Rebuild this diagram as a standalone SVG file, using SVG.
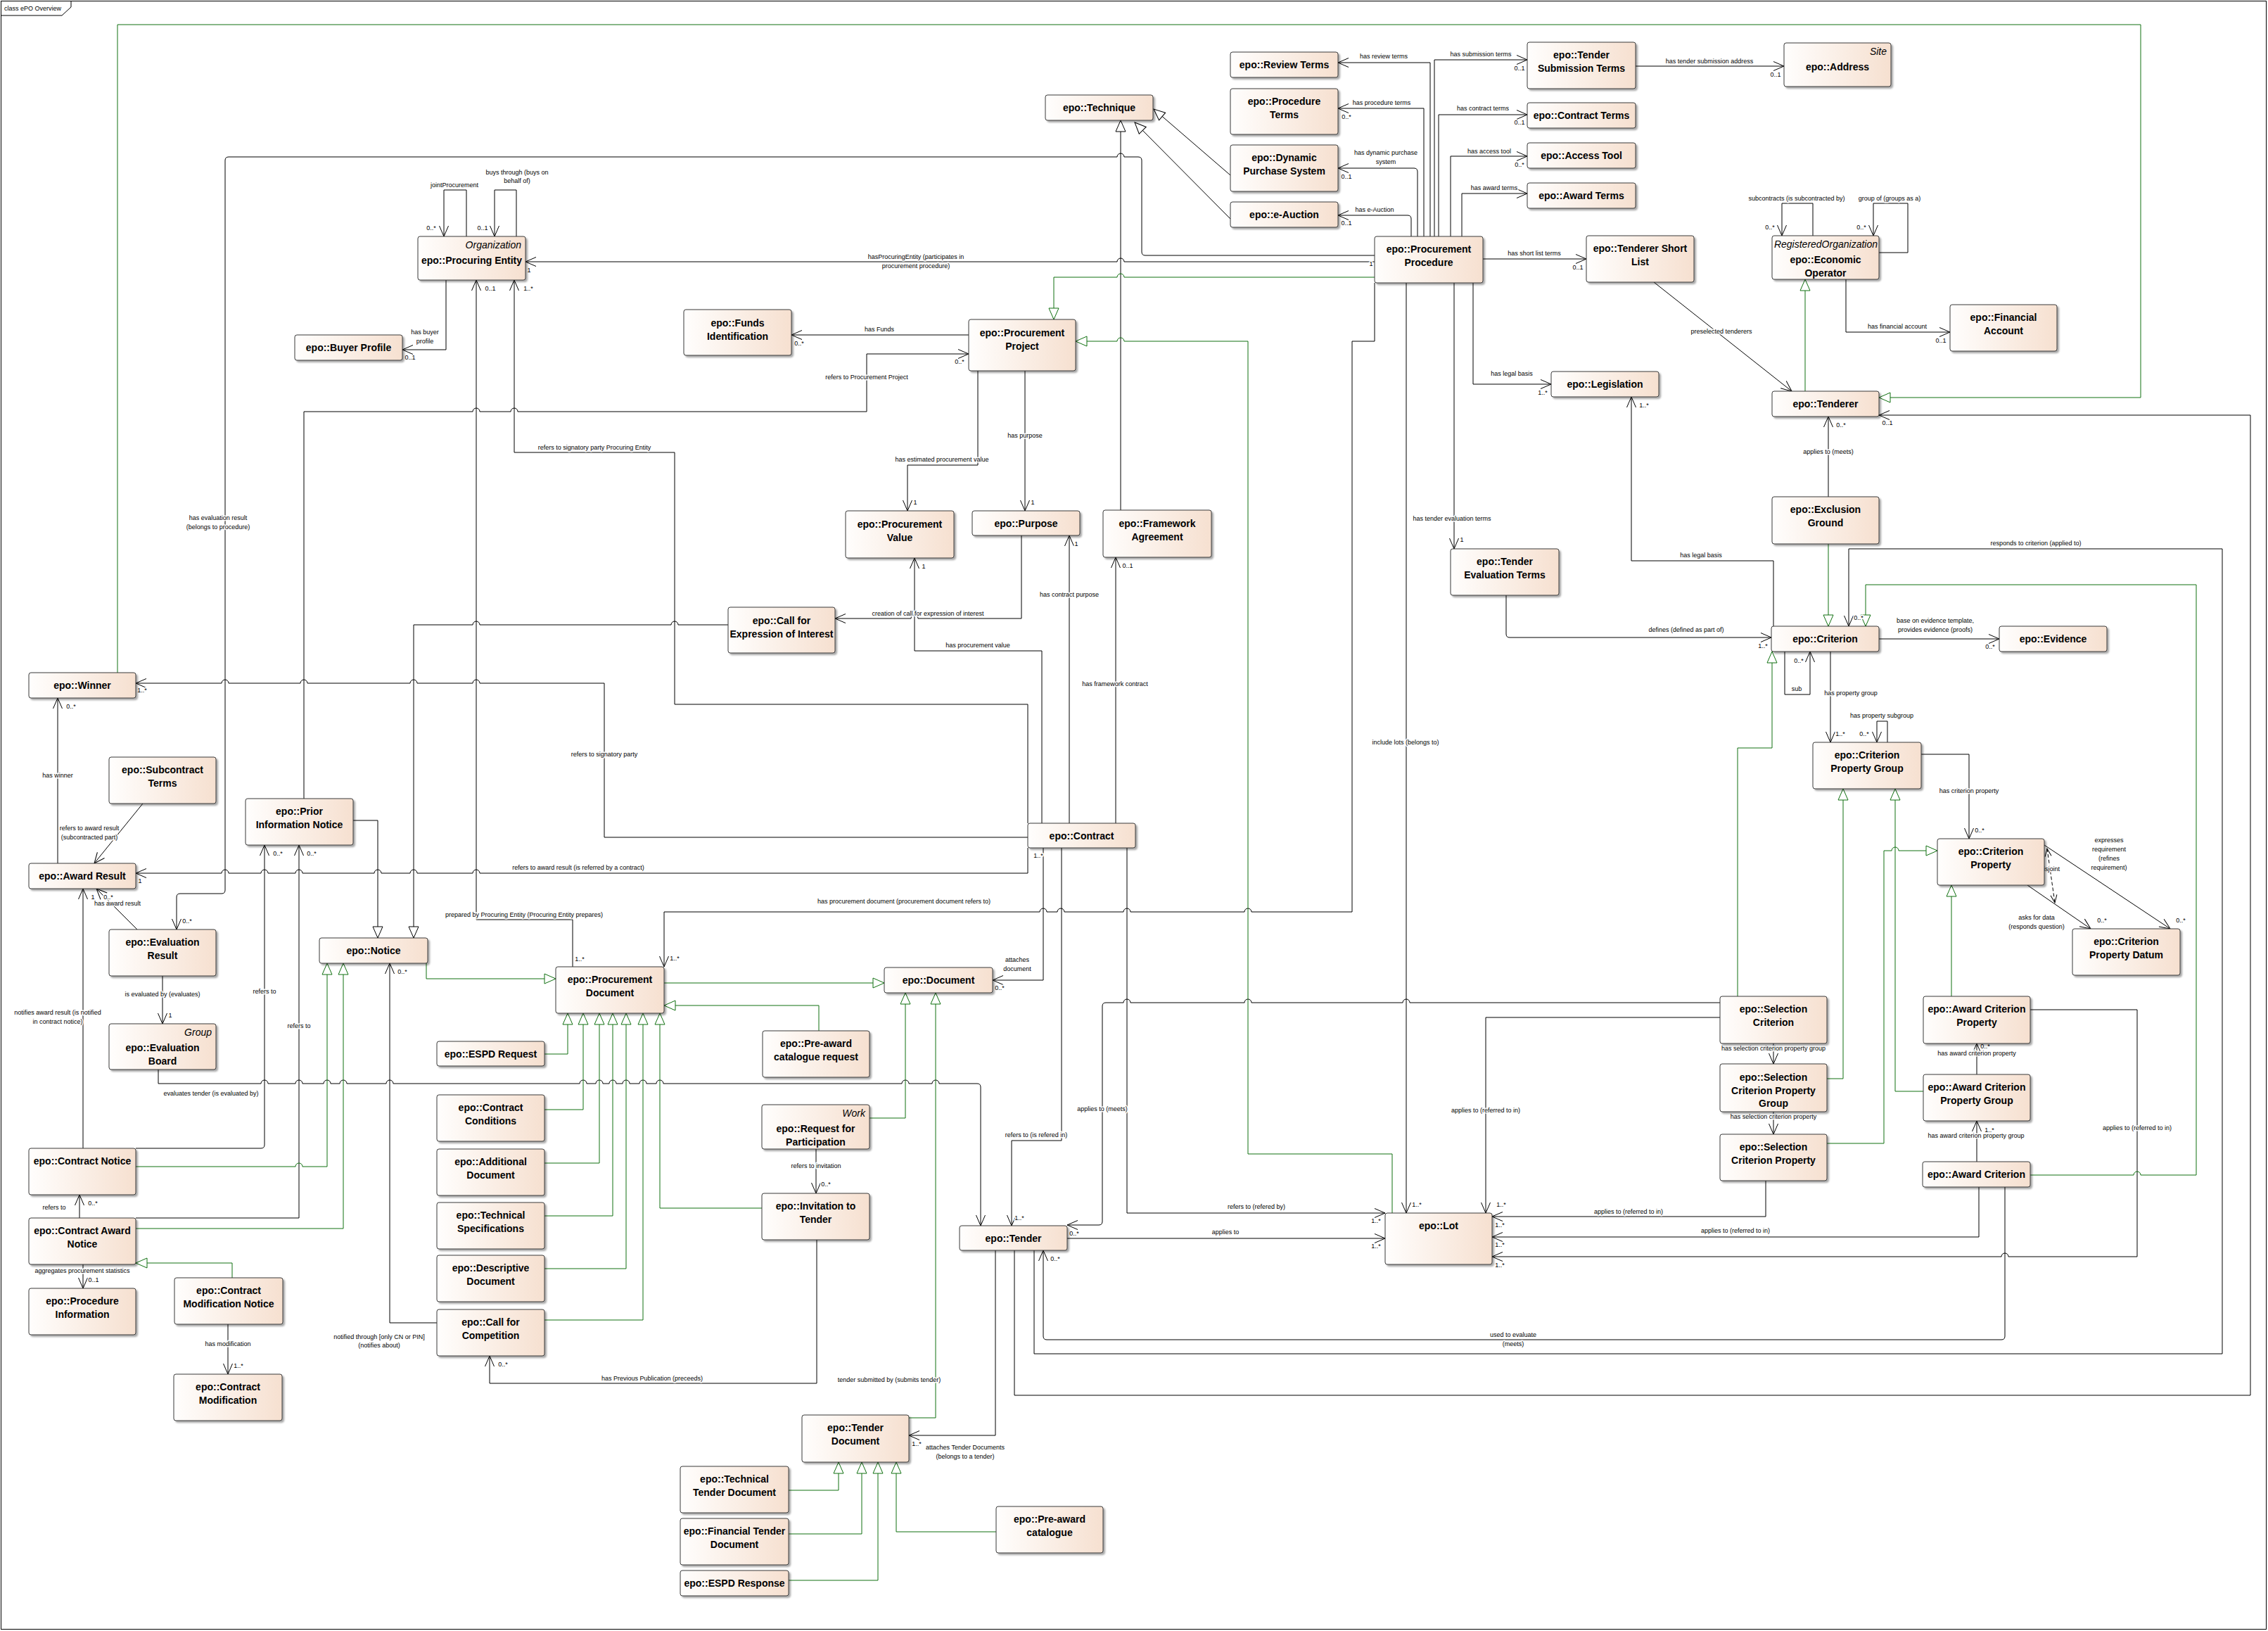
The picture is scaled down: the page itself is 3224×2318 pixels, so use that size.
<svg xmlns="http://www.w3.org/2000/svg" width="3224" height="2318" viewBox="0 0 3224 2318">
<defs>
<linearGradient id="g" x1="0" y1="0" x2="1" y2="0"><stop offset="0" stop-color="#fffefd"/><stop offset="1" stop-color="#f6e0d0"/></linearGradient>
<filter id="ds" x="-5%" y="-5%" width="115%" height="130%"><feDropShadow dx="2.5" dy="2.5" stdDeviation="1.2" flood-color="#000" flood-opacity="0.35"/></filter>
<marker id="oa" viewBox="-1 -1 17 15" refX="15" refY="6.5" markerWidth="17" markerHeight="15" orient="auto" markerUnits="userSpaceOnUse"><path d="M0,0 L15,6.5 L0,13" fill="none" stroke="#000" stroke-width="1"/></marker>
<marker id="os" viewBox="-1 -1 13 11" refX="11" refY="4.5" markerWidth="13" markerHeight="11" orient="auto-start-reverse" markerUnits="userSpaceOnUse"><path d="M0,0 L11,4.5 L0,9" fill="none" stroke="#000" stroke-width="1"/></marker>
<marker id="gt" viewBox="-1 -1 18 16" refX="16" refY="7" markerWidth="18" markerHeight="16" orient="auto" markerUnits="userSpaceOnUse"><path d="M0,0 L16,7 L0,14 Z" fill="#fff" stroke="#107010" stroke-width="1"/></marker>
<marker id="bt" viewBox="-1 -1 18 16" refX="16" refY="7" markerWidth="18" markerHeight="16" orient="auto" markerUnits="userSpaceOnUse"><path d="M0,0 L16,7 L0,14 Z" fill="#fff" stroke="#000" stroke-width="1"/></marker>
</defs>
<style>
.b{fill:url(#g);stroke:#3a3a3a;stroke-width:1;filter:url(#ds)}
.t{font:bold 14px "Liberation Sans",Arial,sans-serif;text-anchor:middle;fill:#000}
.s{font:italic 14px "Liberation Sans",Arial,sans-serif;text-anchor:end;fill:#000}
.l{font:9px "Liberation Sans",Arial,sans-serif;text-anchor:middle;fill:#000;paint-order:stroke;stroke:#fff;stroke-width:3px;stroke-linejoin:round}
.c{fill:none;stroke:#000;stroke-width:1}
.a{marker-end:url(#oa)}
.g{fill:none;stroke:#107010;stroke-width:1;marker-end:url(#gt)}
.be{marker-end:url(#bt)}
.d{stroke-dasharray:5,3;marker-start:url(#os);marker-end:url(#os)}
</style>
<rect x="0" y="0" width="3224" height="2318" fill="#fff"/>
<g id="frame">
<rect x="1.5" y="1.5" width="3220" height="2314" fill="none" stroke="#000"/>
<path d="M1.5,22H88L101,10V1.5" fill="none" stroke="#000"/>
<text x="6" y="15" style="font:9px 'Liberation Sans',Arial,sans-serif">class ePO Overview</text>
</g>
<g id="connectors">
<g class="c a">
<path d="M663,336V270H631V336"/>
<path d="M734,336V270H703V336"/>
<path d="M634,398V497H572"/>
<path d="M1954,372H1598A5,5 0 0 0 1588,372H747"/>
<path d="M1954,363H1628Q1623,363 1623,358V228Q1623,223 1618,223H1598A5,5 0 0 0 1588,223H325Q320,223 320,228V1265Q320,1270 315,1270H256Q251,1270 251,1275V1321"/>
<path d="M1377,476H1125"/>
<path d="M432,1135V585H672A5,5 0 0 1 682,585H726A5,5 0 0 1 736,585H1232V503H1377"/>
<path d="M1461,1170V1001H959V643H731V398"/>
<path d="M814,1374V1307H677V398"/>
<path d="M82,1227V992"/>
<path d="M1461,1190H859V971H682A5,5 0 0 0 672,971H593A5,5 0 0 0 583,971H437A5,5 0 0 0 427,971H325A5,5 0 0 0 315,971H193"/>
<path d="M1461,1205V1241H682A5,5 0 0 0 672,1241H593A5,5 0 0 0 583,1241H542A5,5 0 0 0 532,1241H430A5,5 0 0 0 420,1241H381A5,5 0 0 0 371,1241H325A5,5 0 0 0 315,1241H193"/>
<path d="M203,1142L134,1227"/>
<path d="M195,1321L137,1263"/>
<path d="M231,1387V1455"/>
<path d="M225,1520V1540H371A5,5 0 0 1 381,1540H420A5,5 0 0 1 430,1540H460A5,5 0 0 1 470,1540H483A5,5 0 0 1 493,1540H549A5,5 0 0 1 559,1540H824A5,5 0 0 1 834,1540H847A5,5 0 0 1 857,1540H866A5,5 0 0 1 876,1540H885A5,5 0 0 1 895,1540H909A5,5 0 0 1 919,1540H933A5,5 0 0 1 943,1540H1282A5,5 0 0 1 1292,1540H1325A5,5 0 0 1 1335,1540H1389Q1394,1540 1394,1545V1742"/>
<path d="M118,1632V1263"/>
<path d="M193,1632H371Q376,1632 376,1627V1201"/>
<path d="M193,1731H425V1201"/>
<path d="M113,1731V1698"/>
<path d="M118,1797V1831"/>
<path d="M324,1882V1953"/>
<path d="M621,1880H554V1369"/>
<path d="M1161,1762V1966H696V1927"/>
<path d="M1160,1633V1696"/>
<path d="M1415,1777V2040H1292"/>
<path d="M1442,1777V1983H3199V590H2671"/>
<path d="M1470,1777V1924H3159V780H2628V890"/>
<path d="M2850,1687V1899Q2850,1904 2845,1904H1488Q1483,1904 1483,1899V1777"/>
<path d="M2813,1687V1758H2121"/>
<path d="M2886,1435H3038V1786H2855A5,5 0 0 0 2845,1786H2121"/>
<path d="M2510,1678V1729H2121"/>
<path d="M2445,1446H2112V1724"/>
<path d="M2445,1425H2004A5,5 0 0 0 1994,1425H1779A5,5 0 0 0 1769,1425H1607A5,5 0 0 0 1597,1425H1572Q1567,1425 1567,1430V1736Q1567,1741 1562,1741H1517"/>
<path d="M1602,1205V1724H1969"/>
<path d="M1509,1205V1621H1438V1742"/>
<path d="M1517,1760H1969"/>
<path d="M1483,1205V1393H1411"/>
<path d="M1954,402V485H1922V1296H1779A5,5 0 0 0 1769,1296H1607A5,5 0 0 0 1597,1296H1513A5,5 0 0 0 1503,1296H1488A5,5 0 0 0 1478,1296H944V1374"/>
<path d="M1999,402V1724"/>
<path d="M2067,402V780"/>
<path d="M2094,402V546H2205"/>
<path d="M2108,368H2255"/>
<path d="M2351,401L2547,556"/>
<path d="M2325,94H2536"/>
<path d="M2006,336V311Q2006,306 2001,306H1902"/>
<path d="M2015,336V244Q2015,239 2010,239H1902"/>
<path d="M2024,336V154H1902"/>
<path d="M2033,336V89H1902"/>
<path d="M2039,336V85H2171"/>
<path d="M2045,336V163H2171"/>
<path d="M2062,336V222H2171"/>
<path d="M2078,336V275H2171"/>
<path d="M2577,335V289H2533V335"/>
<path d="M2671,359H2712V289H2663V335"/>
<path d="M2624,397V472H2772"/>
<path d="M2599,706V592"/>
<path d="M2521,890V797H2319V564"/>
<path d="M2141,846V901Q2141,906 2146,906H2518"/>
<path d="M2671,908H2842"/>
<path d="M2537,926V987H2573V926"/>
<path d="M2602,926V1055"/>
<path d="M2683,1055V1025H2668V1055"/>
<path d="M2731,1072H2799V1192"/>
<path d="M2882,1258L2972,1320"/>
<path d="M2906,1201L3085,1320"/>
<path d="M2521,1483V1512"/>
<path d="M2521,1580V1612"/>
<path d="M2810,1527V1483"/>
<path d="M2810,1651V1593"/>
<path d="M1452,761V879H1305A5,5 0 0 0 1295,879H1187"/>
<path d="M1481,1170V925H1300V793"/>
<path d="M1520,1170V761"/>
<path d="M1586,1170V792"/>
<path d="M1390,527V661H1290V726"/>
<path d="M1457,527V726"/>
</g>
<path class="c d" d="M2910,1206L2921,1283"/>
<g class="c be">
<path d="M502,1166H537V1333"/>
<path d="M1035,888H964A5,5 0 0 0 954,888H682A5,5 0 0 0 672,888H588V1333"/>
<path d="M1593,725V171"/>
<path d="M1749,249L1640,155"/>
<path d="M1749,311L1613,174"/>
</g>
<g class="g">
<path d="M167,956V35H3043V565H2671"/>
<path d="M1954,394H1598A5,5 0 0 0 1588,394H1498V454"/>
<path d="M1979,1724V1640H1774V485H1598A5,5 0 0 0 1588,485H1529"/>
<path d="M2566,556V397"/>
<path d="M2599,773V890"/>
<path d="M2470,1416V1063H2519V926"/>
<path d="M2886,1670H3033A5,5 0 0 1 3043,1670H3122V831H2652V890"/>
<path d="M2597,1533H2620V1121"/>
<path d="M2734,1551H2694V1121"/>
<path d="M2597,1625H2678V1209H2689A5,5 0 0 1 2699,1209H2754"/>
<path d="M2774,1416V1258"/>
<path d="M606,1369V1391H790"/>
<path d="M193,1658H420A5,5 0 0 1 430,1658H465V1369"/>
<path d="M193,1746H488V1369"/>
<path d="M330,1816V1795H193"/>
<path d="M774,1498H807V1440"/>
<path d="M774,1577H829V1440"/>
<path d="M774,1653H852V1440"/>
<path d="M774,1728H871V1440"/>
<path d="M774,1803H890V1440"/>
<path d="M774,1876H914V1440"/>
<path d="M1083,1717H938V1440"/>
<path d="M1164,1465V1429H944"/>
<path d="M944,1397H1257"/>
<path d="M1236,1589H1287V1411"/>
<path d="M1292,2015H1330V1411"/>
<path d="M1121,2118H1192V2078"/>
<path d="M1121,2180H1225V2078"/>
<path d="M1121,2246H1248V2078"/>
<path d="M1416,2177H1274V2078"/>
</g>
<g class="l">
<text x="646" y="266">jointProcurement</text>
<text x="735" y="248">buys through (buys on</text>
<text x="735" y="260">behalf of)</text>
<text x="604" y="475">has buyer</text>
<text x="604" y="488">profile</text>
<text x="1302" y="368">hasProcuringEntity (participates in</text>
<text x="1302" y="381">procurement procedure)</text>
<text x="1250" y="471">has Funds</text>
<text x="1232" y="539">refers to Procurement Project</text>
<text x="845" y="639">refers to signatory party Procuring Entity</text>
<text x="310" y="739">has evaluation result</text>
<text x="310" y="752">(belongs to procedure)</text>
<text x="1339" y="656">has estimated procurement value</text>
<text x="1457" y="622">has purpose</text>
<text x="1954" y="301">has e-Auction</text>
<text x="1970" y="220">has dynamic purchase</text>
<text x="1970" y="233">system</text>
<text x="1964" y="149">has procedure terms</text>
<text x="1967" y="83">has review terms</text>
<text x="2105" y="80">has submission terms</text>
<text x="2108" y="157">has contract terms</text>
<text x="2117" y="218">has access tool</text>
<text x="2124" y="270">has award terms</text>
<text x="2430" y="90">has tender submission address</text>
<text x="2181" y="363">has short list terms</text>
<text x="2447" y="474">preselected tenderers</text>
<text x="2554" y="285">subcontracts (is subcontracted by)</text>
<text x="2686" y="285">group of (groups as a)</text>
<text x="2697" y="467">has financial account</text>
<text x="2599" y="645">applies to (meets)</text>
<text x="2149" y="534">has legal basis</text>
<text x="2064" y="740">has tender evaluation terms</text>
<text x="2418" y="792">has legal basis</text>
<text x="2397" y="898">defines (defined as part of)</text>
<text x="2894" y="775">responds to criterion (applied to)</text>
<text x="2751" y="885">base on evidence template,</text>
<text x="2751" y="898">provides evidence (proofs)</text>
<text x="2554" y="982">sub</text>
<text x="2631" y="988">has property group</text>
<text x="2675" y="1020">has property subgroup</text>
<text x="2799" y="1127">has criterion property</text>
<text x="2998" y="1197">expresses</text>
<text x="2998" y="1210">requirement</text>
<text x="2998" y="1223">(refines</text>
<text x="2998" y="1236">requirement)</text>
<text x="2914" y="1238">disjoint</text>
<text x="2895" y="1307">asks for data</text>
<text x="2895" y="1320">(responds question)</text>
<text x="2521" y="1493">has selection criterion property group</text>
<text x="2810" y="1500">has award criterion property</text>
<text x="2521" y="1590">has selection criterion property</text>
<text x="2809" y="1617">has award criterion property group</text>
<text x="3038" y="1606">applies to (referred to in)</text>
<text x="2467" y="1752">applies to (referred to in)</text>
<text x="2315" y="1725">applies to (referred to in)</text>
<text x="2112" y="1581">applies to (referred to in)</text>
<text x="2151" y="1900">used to evaluate</text>
<text x="2151" y="1913">(meets)</text>
<text x="1998" y="1058">include lots (belongs to)</text>
<text x="1786" y="1718">refers to (refered by)</text>
<text x="1742" y="1754">applies to</text>
<text x="1567" y="1579">applies to (meets)</text>
<text x="1473" y="1616">refers to (is refered in)</text>
<text x="1319" y="875">creation of call for expression of interest</text>
<text x="1390" y="920">has procurement value</text>
<text x="1520" y="848">has contract purpose</text>
<text x="1585" y="975">has framework contract</text>
<text x="859" y="1075">refers to signatory party</text>
<text x="822" y="1236">refers to award result (is referred by a contract)</text>
<text x="1285" y="1284">has procurement document (procurement document refers to)</text>
<text x="1446" y="1367">attaches</text>
<text x="1446" y="1380">document</text>
<text x="745" y="1303">prepared by Procuring Entity (Procuring Entity prepares)</text>
<text x="82" y="1105">has winner</text>
<text x="127" y="1180">refers to award result</text>
<text x="127" y="1193">(subcontracted part)</text>
<text x="167" y="1287">has award result</text>
<text x="231" y="1416">is evaluated by (evaluates)</text>
<text x="82" y="1442">notifies award result (is notified</text>
<text x="82" y="1455">in contract notice)</text>
<text x="376" y="1412">refers to</text>
<text x="425" y="1461">refers to</text>
<text x="300" y="1557">evaluates tender (is evaluated by)</text>
<text x="77" y="1719">refers to</text>
<text x="117" y="1809">aggregates procurement statistics</text>
<text x="324" y="1913">has modification</text>
<text x="539" y="1903">notified through [only CN or PIN]</text>
<text x="539" y="1915">(notifies about)</text>
<text x="1160" y="1660">refers to invitation</text>
<text x="927" y="1962">has Previous Publication (preceeds)</text>
<text x="1264" y="1964">tender submitted by (submits tender)</text>
<text x="1372" y="2060">attaches Tender Documents</text>
<text x="1372" y="2073">(belongs to a tender)</text>
<text x="613" y="327">0..*</text>
<text x="686" y="327">0..1</text>
<text x="752" y="387">1</text>
<text x="697" y="413">0..1</text>
<text x="751" y="413">1..*</text>
<text x="583" y="511">0..1</text>
<text x="1136" y="491">0..*</text>
<text x="1364" y="517">0..*</text>
<text x="1301" y="717">1</text>
<text x="1468" y="717">1</text>
<text x="1914" y="320">0..1</text>
<text x="1914" y="254">0..1</text>
<text x="1914" y="169">0..*</text>
<text x="2160" y="100">0..1</text>
<text x="2160" y="177">0..1</text>
<text x="2160" y="237">0..*</text>
<text x="2524" y="109">0..1</text>
<text x="1949" y="378">1</text>
<text x="2243" y="383">0..1</text>
<text x="2193" y="561">1..*</text>
<text x="2337" y="579">1..*</text>
<text x="2078" y="770">1</text>
<text x="2516" y="326">0..*</text>
<text x="2646" y="326">0..*</text>
<text x="2759" y="487">0..1</text>
<text x="2617" y="607">0..*</text>
<text x="2683" y="604">0..1</text>
<text x="2506" y="921">1..*</text>
<text x="2642" y="881">0..*</text>
<text x="2829" y="922">0..*</text>
<text x="2557" y="942">0..*</text>
<text x="2616" y="1046">1..*</text>
<text x="2650" y="1046">0..*</text>
<text x="2814" y="1183">0..*</text>
<text x="2988" y="1311">0..*</text>
<text x="3100" y="1311">0..*</text>
<text x="2822" y="1490">0..*</text>
<text x="2828" y="1609">1..*</text>
<text x="2014" y="1715">1..*</text>
<text x="2134" y="1715">1..*</text>
<text x="1956" y="1738">1..*</text>
<text x="1956" y="1774">1..*</text>
<text x="2132" y="1744">1..*</text>
<text x="2132" y="1772">1..*</text>
<text x="2132" y="1801">1..*</text>
<text x="1527" y="1756">0..*</text>
<text x="1449" y="1734">1..*</text>
<text x="1500" y="1792">0..*</text>
<text x="1303" y="2055">1..*</text>
<text x="1174" y="1686">0..*</text>
<text x="715" y="1942">0..*</text>
<text x="959" y="1365">1..*</text>
<text x="824" y="1366">1..*</text>
<text x="1421" y="1407">0..*</text>
<text x="1476" y="1219">1..*</text>
<text x="1313" y="808">1</text>
<text x="1530" y="776">1</text>
<text x="1603" y="807">0..1</text>
<text x="202" y="984">1..*</text>
<text x="101" y="1007">0..*</text>
<text x="199" y="1255">1</text>
<text x="154" y="1278">0..*</text>
<text x="132" y="1278">1</text>
<text x="266" y="1312">0..*</text>
<text x="242" y="1446">1</text>
<text x="395" y="1216">0..*</text>
<text x="443" y="1216">0..*</text>
<text x="572" y="1384">0..*</text>
<text x="132" y="1713">0..*</text>
<text x="133" y="1822">0..1</text>
<text x="339" y="1944">1..*</text>
</g>
</g>
<g id="n-procuring-entity"><rect class="b" x="594" y="336" width="153" height="62" rx="3"/><text class="s" x="741" y="353">Organization</text><text class="t" x="670.5" y="375">epo::Procuring Entity</text></g>
<g id="n-buyer-profile"><rect class="b" x="419" y="476" width="153" height="36" rx="3"/><text class="t" x="495.5" y="499">epo::Buyer Profile</text></g>
<g id="n-funds"><rect class="b" x="972" y="440" width="153" height="65" rx="3"/><text class="t" x="1048.5" y="464">epo::Funds</text><text class="t" x="1048.5" y="483">Identification</text></g>
<g id="n-procurement-project"><rect class="b" x="1377" y="454" width="152" height="73" rx="3"/><text class="t" x="1453" y="478">epo::Procurement</text><text class="t" x="1453" y="497">Project</text></g>
<g id="n-technique"><rect class="b" x="1486" y="135" width="153" height="36" rx="3"/><text class="t" x="1562.5" y="158">epo::Technique</text></g>
<g id="n-procurement-value"><rect class="b" x="1202" y="726" width="154" height="67" rx="3"/><text class="t" x="1279" y="750">epo::Procurement</text><text class="t" x="1279" y="769">Value</text></g>
<g id="n-purpose"><rect class="b" x="1382" y="726" width="153" height="35" rx="3"/><text class="t" x="1458.5" y="749">epo::Purpose</text></g>
<g id="n-framework-agreement"><rect class="b" x="1568" y="725" width="154" height="67" rx="3"/><text class="t" x="1645" y="749">epo::Framework</text><text class="t" x="1645" y="768">Agreement</text></g>
<g id="n-call-eoi"><rect class="b" x="1035" y="863" width="152" height="65" rx="3"/><text class="t" x="1111" y="887">epo::Call for</text><text class="t" x="1111" y="906">Expression of Interest</text></g>
<g id="n-contract"><rect class="b" x="1461" y="1170" width="153" height="35" rx="3"/><text class="t" x="1537.5" y="1193">epo::Contract</text></g>
<g id="n-review-terms"><rect class="b" x="1749" y="74" width="153" height="36" rx="3"/><text class="t" x="1825.5" y="97">epo::Review Terms</text></g>
<g id="n-procedure-terms"><rect class="b" x="1749" y="126" width="153" height="65" rx="3"/><text class="t" x="1825.5" y="149">epo::Procedure</text><text class="t" x="1825.5" y="168">Terms</text></g>
<g id="n-dps"><rect class="b" x="1749" y="206" width="153" height="66" rx="3"/><text class="t" x="1825.5" y="229">epo::Dynamic</text><text class="t" x="1825.5" y="248">Purchase System</text></g>
<g id="n-e-auction"><rect class="b" x="1749" y="287" width="153" height="36" rx="3"/><text class="t" x="1825.5" y="310">epo::e-Auction</text></g>
<g id="n-procurement-procedure"><rect class="b" x="1954" y="336" width="154" height="66" rx="3"/><text class="t" x="2031" y="359">epo::Procurement</text><text class="t" x="2031" y="378">Procedure</text></g>
<g id="n-tender-submission-terms"><rect class="b" x="2171" y="60" width="154" height="66" rx="3"/><text class="t" x="2248" y="83">epo::Tender</text><text class="t" x="2248" y="102">Submission Terms</text></g>
<g id="n-contract-terms"><rect class="b" x="2171" y="146" width="154" height="36" rx="3"/><text class="t" x="2248" y="169">epo::Contract Terms</text></g>
<g id="n-access-tool"><rect class="b" x="2171" y="203" width="154" height="36" rx="3"/><text class="t" x="2248" y="226">epo::Access Tool</text></g>
<g id="n-award-terms"><rect class="b" x="2171" y="260" width="154" height="36" rx="3"/><text class="t" x="2248" y="283">epo::Award Terms</text></g>
<g id="n-address"><rect class="b" x="2536" y="61" width="152" height="62" rx="3"/><text class="s" x="2682" y="78">Site</text><text class="t" x="2612" y="100">epo::Address</text></g>
<g id="n-tenderer-short-list"><rect class="b" x="2255" y="335" width="153" height="66" rx="3"/><text class="t" x="2331.5" y="358">epo::Tenderer Short</text><text class="t" x="2331.5" y="377">List</text></g>
<g id="n-legislation"><rect class="b" x="2205" y="528" width="153" height="36" rx="3"/><text class="t" x="2281.5" y="551">epo::Legislation</text></g>
<g id="n-tender-evaluation-terms"><rect class="b" x="2062" y="780" width="154" height="66" rx="3"/><text class="t" x="2139" y="803">epo::Tender</text><text class="t" x="2139" y="822">Evaluation Terms</text></g>
<g id="n-economic-operator"><rect class="b" x="2519" y="335" width="152" height="62" rx="3"/><text class="s" x="2669" y="352">RegisteredOrganization</text><text class="t" x="2595" y="374">epo::Economic</text><text class="t" x="2595" y="393">Operator</text></g>
<g id="n-financial-account"><rect class="b" x="2772" y="433" width="152" height="66" rx="3"/><text class="t" x="2848" y="456">epo::Financial</text><text class="t" x="2848" y="475">Account</text></g>
<g id="n-tenderer"><rect class="b" x="2519" y="556" width="152" height="36" rx="3"/><text class="t" x="2595" y="579">epo::Tenderer</text></g>
<g id="n-exclusion-ground"><rect class="b" x="2519" y="706" width="152" height="67" rx="3"/><text class="t" x="2595" y="729">epo::Exclusion</text><text class="t" x="2595" y="748">Ground</text></g>
<g id="n-criterion"><rect class="b" x="2518" y="890" width="153" height="36" rx="3"/><text class="t" x="2594.5" y="913">epo::Criterion</text></g>
<g id="n-evidence"><rect class="b" x="2842" y="890" width="153" height="36" rx="3"/><text class="t" x="2918.5" y="913">epo::Evidence</text></g>
<g id="n-criterion-property-group"><rect class="b" x="2577" y="1055" width="154" height="66" rx="3"/><text class="t" x="2654" y="1078">epo::Criterion</text><text class="t" x="2654" y="1097">Property Group</text></g>
<g id="n-criterion-property"><rect class="b" x="2754" y="1192" width="152" height="66" rx="3"/><text class="t" x="2830" y="1215">epo::Criterion</text><text class="t" x="2830" y="1234">Property</text></g>
<g id="n-criterion-property-datum"><rect class="b" x="2946" y="1320" width="153" height="66" rx="3"/><text class="t" x="3022.5" y="1343">epo::Criterion</text><text class="t" x="3022.5" y="1362">Property Datum</text></g>
<g id="n-selection-criterion"><rect class="b" x="2445" y="1416" width="152" height="67" rx="3"/><text class="t" x="2521" y="1439">epo::Selection</text><text class="t" x="2521" y="1458">Criterion</text></g>
<g id="n-selection-criterion-property-group"><rect class="b" x="2445" y="1512" width="152" height="68" rx="3"/><text class="t" x="2521" y="1536">epo::Selection</text><text class="t" x="2521" y="1555">Criterion Property</text><text class="t" x="2521" y="1573">Group</text></g>
<g id="n-selection-criterion-property"><rect class="b" x="2445" y="1612" width="152" height="66" rx="3"/><text class="t" x="2521" y="1635">epo::Selection</text><text class="t" x="2521" y="1654">Criterion Property</text></g>
<g id="n-award-criterion-property"><rect class="b" x="2734" y="1416" width="152" height="67" rx="3"/><text class="t" x="2810" y="1439">epo::Award Criterion</text><text class="t" x="2810" y="1458">Property</text></g>
<g id="n-award-criterion-property-group"><rect class="b" x="2734" y="1527" width="152" height="66" rx="3"/><text class="t" x="2810" y="1550">epo::Award Criterion</text><text class="t" x="2810" y="1569">Property Group</text></g>
<g id="n-award-criterion"><rect class="b" x="2733" y="1651" width="153" height="36" rx="3"/><text class="t" x="2809.5" y="1674">epo::Award Criterion</text></g>
<g id="n-lot"><rect class="b" x="1969" y="1724" width="152" height="73" rx="3"/><text class="t" x="2045" y="1747">epo::Lot</text></g>
<g id="n-winner"><rect class="b" x="41" y="956" width="152" height="36" rx="3"/><text class="t" x="117" y="979">epo::Winner</text></g>
<g id="n-subcontract-terms"><rect class="b" x="155" y="1076" width="152" height="66" rx="3"/><text class="t" x="231" y="1099">epo::Subcontract</text><text class="t" x="231" y="1118">Terms</text></g>
<g id="n-prior-information-notice"><rect class="b" x="349" y="1135" width="153" height="66" rx="3"/><text class="t" x="425.5" y="1158">epo::Prior</text><text class="t" x="425.5" y="1177">Information Notice</text></g>
<g id="n-award-result"><rect class="b" x="41" y="1227" width="152" height="36" rx="3"/><text class="t" x="117" y="1250">epo::Award Result</text></g>
<g id="n-evaluation-result"><rect class="b" x="155" y="1321" width="152" height="66" rx="3"/><text class="t" x="231" y="1344">epo::Evaluation</text><text class="t" x="231" y="1363">Result</text></g>
<g id="n-evaluation-board"><rect class="b" x="155" y="1455" width="152" height="65" rx="3"/><text class="s" x="301" y="1472">Group</text><text class="t" x="231" y="1494">epo::Evaluation</text><text class="t" x="231" y="1513">Board</text></g>
<g id="n-notice"><rect class="b" x="454" y="1333" width="154" height="36" rx="3"/><text class="t" x="531" y="1356">epo::Notice</text></g>
<g id="n-procurement-document"><rect class="b" x="790" y="1374" width="154" height="66" rx="3"/><text class="t" x="867" y="1397">epo::Procurement</text><text class="t" x="867" y="1416">Document</text></g>
<g id="n-document"><rect class="b" x="1257" y="1375" width="154" height="36" rx="3"/><text class="t" x="1334" y="1398">epo::Document</text></g>
<g id="n-espd-request"><rect class="b" x="621" y="1480" width="153" height="35" rx="3"/><text class="t" x="697.5" y="1503">epo::ESPD Request</text></g>
<g id="n-pre-award-catalogue-request"><rect class="b" x="1084" y="1465" width="152" height="66" rx="3"/><text class="t" x="1160" y="1488">epo::Pre-award</text><text class="t" x="1160" y="1507">catalogue request</text></g>
<g id="n-contract-conditions"><rect class="b" x="621" y="1556" width="153" height="66" rx="3"/><text class="t" x="697.5" y="1579">epo::Contract</text><text class="t" x="697.5" y="1598">Conditions</text></g>
<g id="n-additional-document"><rect class="b" x="621" y="1633" width="153" height="66" rx="3"/><text class="t" x="697.5" y="1656">epo::Additional</text><text class="t" x="697.5" y="1675">Document</text></g>
<g id="n-technical-specifications"><rect class="b" x="621" y="1709" width="153" height="66" rx="3"/><text class="t" x="697.5" y="1732">epo::Technical</text><text class="t" x="697.5" y="1751">Specifications</text></g>
<g id="n-descriptive-document"><rect class="b" x="621" y="1784" width="153" height="66" rx="3"/><text class="t" x="697.5" y="1807">epo::Descriptive</text><text class="t" x="697.5" y="1826">Document</text></g>
<g id="n-call-for-competition"><rect class="b" x="621" y="1861" width="153" height="66" rx="3"/><text class="t" x="697.5" y="1884">epo::Call for</text><text class="t" x="697.5" y="1903">Competition</text></g>
<g id="n-request-for-participation"><rect class="b" x="1083" y="1570" width="153" height="63" rx="3"/><text class="s" x="1230" y="1587">Work</text><text class="t" x="1159.5" y="1609">epo::Request for</text><text class="t" x="1159.5" y="1628">Participation</text></g>
<g id="n-invitation-to-tender"><rect class="b" x="1083" y="1696" width="153" height="66" rx="3"/><text class="t" x="1159.5" y="1719">epo::Invitation to</text><text class="t" x="1159.5" y="1738">Tender</text></g>
<g id="n-tender"><rect class="b" x="1364" y="1742" width="153" height="35" rx="3"/><text class="t" x="1440.5" y="1765">epo::Tender</text></g>
<g id="n-tender-document"><rect class="b" x="1140" y="2011" width="152" height="67" rx="3"/><text class="t" x="1216" y="2034">epo::Tender</text><text class="t" x="1216" y="2053">Document</text></g>
<g id="n-technical-tender-document"><rect class="b" x="967" y="2084" width="154" height="66" rx="3"/><text class="t" x="1044" y="2107">epo::Technical</text><text class="t" x="1044" y="2126">Tender Document</text></g>
<g id="n-financial-tender-document"><rect class="b" x="967" y="2158" width="154" height="66" rx="3"/><text class="t" x="1044" y="2181">epo::Financial Tender</text><text class="t" x="1044" y="2200">Document</text></g>
<g id="n-espd-response"><rect class="b" x="967" y="2232" width="154" height="36" rx="3"/><text class="t" x="1044" y="2255">epo::ESPD Response</text></g>
<g id="n-pre-award-catalogue"><rect class="b" x="1416" y="2141" width="152" height="66" rx="3"/><text class="t" x="1492" y="2164">epo::Pre-award</text><text class="t" x="1492" y="2183">catalogue</text></g>
<g id="n-contract-notice"><rect class="b" x="41" y="1632" width="152" height="66" rx="3"/><text class="t" x="117" y="1655">epo::Contract Notice</text></g>
<g id="n-contract-award-notice"><rect class="b" x="41" y="1731" width="152" height="66" rx="3"/><text class="t" x="117" y="1754">epo::Contract Award</text><text class="t" x="117" y="1773">Notice</text></g>
<g id="n-procedure-information"><rect class="b" x="41" y="1831" width="152" height="66" rx="3"/><text class="t" x="117" y="1854">epo::Procedure</text><text class="t" x="117" y="1873">Information</text></g>
<g id="n-contract-modification-notice"><rect class="b" x="248" y="1816" width="154" height="66" rx="3"/><text class="t" x="325" y="1839">epo::Contract</text><text class="t" x="325" y="1858">Modification Notice</text></g>
<g id="n-contract-modification"><rect class="b" x="247" y="1953" width="154" height="66" rx="3"/><text class="t" x="324" y="1976">epo::Contract</text><text class="t" x="324" y="1995">Modification</text></g>
</svg>
